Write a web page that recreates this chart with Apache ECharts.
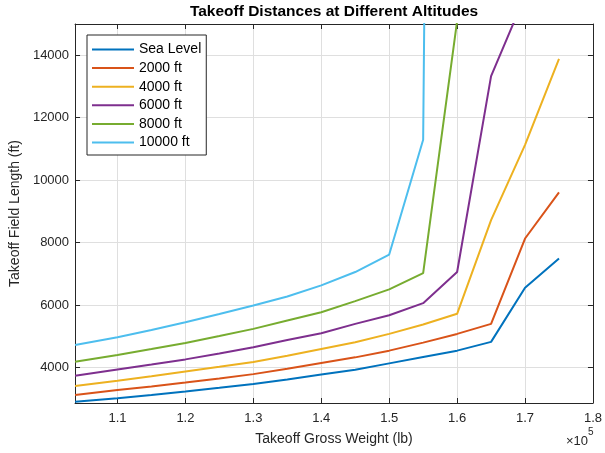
<!DOCTYPE html>
<html>
<head>
<meta charset="utf-8">
<script src="https://cdn.jsdelivr.net/npm/echarts@6/dist/echarts.min.js"></script>
<style>
  html, body { margin: 0; padding: 0; background: #fff; }
  #chart { width: 605px; height: 453px; }
</style>
</head>
<body>
<div id="chart"></div>
<script>
// gross weight (lb)
const weights = [103750, 110000, 115000, 120000, 125000, 130000, 135000, 140000,
  145000, 150000, 155000, 160000, 165000, 170000, 175000];

// takeoff field length (ft), null = off the chart / no data
const seaLevel = [2897, 3016, 3120, 3228, 3345, 3466, 3614, 3775, 3926, 4129, 4334, 4537, 4817, 6553, 7486];
const alt2000 = [3113, 3273, 3392, 3518, 3648, 3785, 3958, 4141, 4322, 4537, 4794, 5073, 5395, 8129, 9608];
const alt4000 = [3402, 3572, 3718, 3871, 4020, 4174, 4376, 4592, 4804, 5074, 5373, 5717, 8717, 11130, 13884];
const alt6000 = [3733, 3936, 4095, 4257, 4445, 4643, 4881, 5093, 5395, 5672, 6058, 7055, 13330, 15900, null];
const alt8000 = [4183, 4399, 4590, 4785, 5005, 5235, 5502, 5768, 6122, 6498, 7023, 15100, null, null, null];
const alt10000 = [4720, 4965, 5200, 5447, 5710, 5984, 6273, 6627, 7055, 7614, 11290, 130000, null, null, null];

const seriesNames = ['Sea Level', '2000 ft', '4000 ft', '6000 ft', '8000 ft', '10000 ft'];
const seriesValues = [seaLevel, alt2000, alt4000, alt6000, alt8000, alt10000];
const colors = ['#0072BD', '#D95319', '#EDB120', '#7E2F8E', '#77AC30', '#4DBEEE'];

const font = 'Liberation Sans, Arial, Helvetica, sans-serif';
const axisColor = '#262626';

const pairs = (vals) => {
  const out = [];
  vals.forEach((v, i) => { if (v !== null) out.push([weights[i], v]); });
  return out;
};

const chart = echarts.init(document.getElementById('chart'));

const xBase = {
  type: 'value',
  min: 103750,
  max: 180000,
  splitNumber: 8,
  axisLine: { show: true, onZero: false, lineStyle: { color: axisColor, width: 1 } },
  axisTick: { show: true, inside: true, length: 5, lineStyle: { color: axisColor } },
};
const yBase = {
  type: 'value',
  min: 2860,
  max: 15000,
  axisLine: { show: true, onZero: false, lineStyle: { color: axisColor, width: 1 } },
  axisTick: { show: true, inside: true, length: 5, lineStyle: { color: axisColor } },
};

chart.setOption({
  animation: false,
  color: colors,
  textStyle: { fontFamily: font },
  title: {
    text: 'Takeoff Distances at Different Altitudes',
    left: 334,
    textAlign: 'center',
    top: 4,
    padding: 0,
    textStyle: { fontFamily: font, fontSize: 15.5, fontWeight: 'bold', color: '#000' }
  },
  grid: { left: 74, right: 10, top: 24, bottom: 50 },
  legend: {
    orient: 'vertical',
    left: 87,
    top: 35,
    icon: 'rect',
    itemWidth: 42,
    itemHeight: 2,
    itemGap: 3.6,
    padding: [7, 5, 5, 5],
    backgroundColor: '#fff',
    borderColor: axisColor,
    borderWidth: 1,
    borderRadius: 0,
    textStyle: { fontFamily: font, fontSize: 14, lineHeight: 15, color: '#000' },
    data: seriesNames
  },
  xAxis: [
    Object.assign({}, xBase, {
      position: 'bottom',
      name: 'Takeoff Gross Weight (lb)',
      nameLocation: 'middle',
      nameGap: 29,
      nameTextStyle: { fontFamily: font, fontSize: 14, color: axisColor },
      axisLabel: {
        showMinLabel: false,
        margin: 9,
        fontFamily: font, fontSize: 13, color: axisColor,
        formatter: (v) => (v / 1e5).toFixed(1)
      },
      splitLine: { show: true, lineStyle: { color: '#dfdfdf', width: 1 } }
    }),
    Object.assign({}, xBase, {
      position: 'top',
      axisLabel: { show: false },
      splitLine: { show: false }
    })
  ],
  yAxis: [
    Object.assign({}, yBase, {
      position: 'left',
      name: 'Takeoff Field Length (ft)',
      nameLocation: 'middle',
      nameGap: 45,
      nameTextStyle: { fontFamily: font, fontSize: 14, color: axisColor },
      axisLabel: {
        showMinLabel: false, showMaxLabel: false,
        margin: 6,
        fontFamily: font, fontSize: 13, color: axisColor,
        formatter: (v) => String(v)
      },
      splitLine: { show: true, lineStyle: { color: '#dfdfdf', width: 1 } }
    }),
    Object.assign({}, yBase, {
      position: 'right',
      axisLabel: { show: false },
      splitLine: { show: false }
    })
  ],
  graphic: [
    {
      type: 'text',
      x: 588,
      y: 441,
      style: {
        text: '\u00d710', fontFamily: font, fontSize: 13, fill: axisColor,
        align: 'right', verticalAlign: 'middle'
      }
    },
    {
      type: 'text',
      x: 588,
      y: 432,
      style: {
        text: '5', fontFamily: font, fontSize: 10, fill: axisColor,
        align: 'left', verticalAlign: 'middle'
      }
    }
  ],
  series: seriesNames.map((name, i) => ({
    name,
    type: 'line',
    xAxisIndex: 0,
    yAxisIndex: 0,
    data: pairs(seriesValues[i]),
    showSymbol: false,
    symbol: 'none',
    clip: true,
    lineStyle: { width: 2, color: colors[i] },
    itemStyle: { color: colors[i] },
    z: 3 + i
  }))
});
</script>
</body>
</html>
